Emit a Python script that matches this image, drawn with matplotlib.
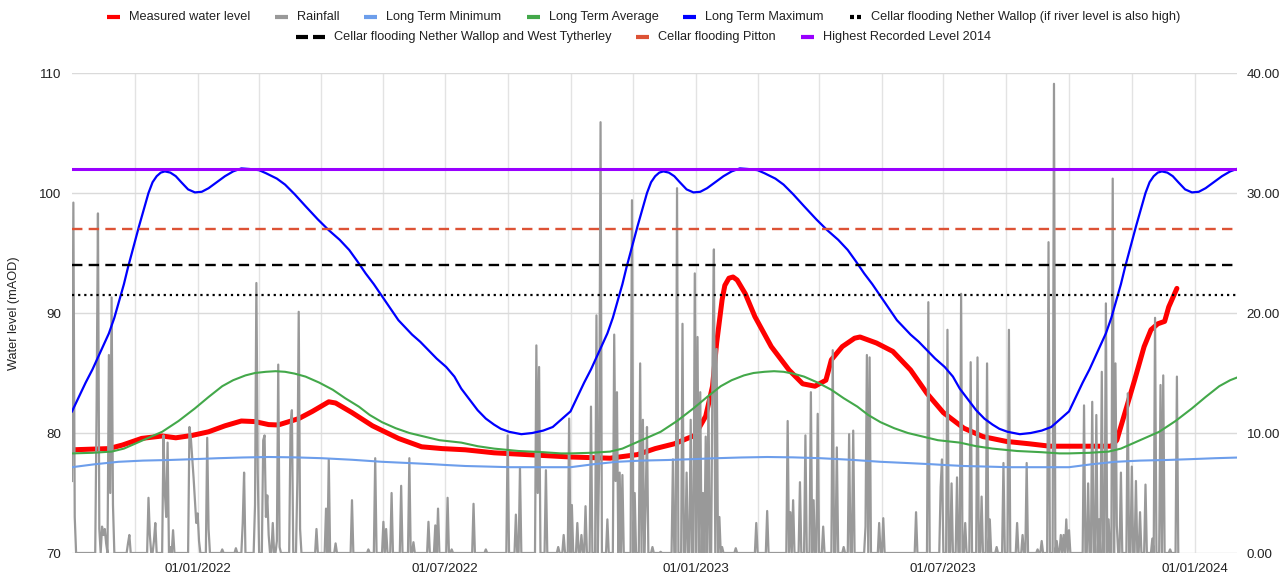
import datetime as dt
import numpy as np
import matplotlib
matplotlib.use("Agg")
import matplotlib.pyplot as plt
from matplotlib.lines import Line2D

plt.rcParams['font.family'] = ['Liberation Sans', 'DejaVu Sans']
plt.rcParams['lines.scale_dashes'] = False

# measured water level (mAOD)
level_dates = ['2021-10-01', '2021-10-28', '2021-11-07', '2021-11-21', '2021-12-06', '2021-12-16',
               '2021-12-28', '2022-01-09', '2022-01-21', '2022-02-02', '2022-02-12', '2022-02-22',
               '2022-03-01', '2022-03-16', '2022-03-26', '2022-04-07', '2022-04-12', '2022-04-24',
               '2022-05-09', '2022-05-28', '2022-06-14', '2022-06-29', '2022-07-16', '2022-08-06',
               '2022-08-30', '2022-10-01', '2022-10-30', '2022-11-19', '2022-12-02', '2022-12-16',
               '2022-12-31', '2023-01-08', '2023-01-13', '2023-01-16', '2023-01-20', '2023-01-22',
               '2023-01-25', '2023-01-28', '2023-01-31', '2023-02-06', '2023-02-13', '2023-02-25',
               '2023-03-10', '2023-03-20', '2023-03-29', '2023-04-06', '2023-04-10', '2023-04-18',
               '2023-04-27', '2023-05-01', '2023-05-13', '2023-05-25', '2023-06-07', '2023-06-19',
               '2023-07-01', '2023-07-16', '2023-07-30', '2023-08-16', '2023-09-02', '2023-09-17',
               '2023-10-07', '2023-11-01', '2023-11-05', '2023-11-11', '2023-11-18', '2023-11-25',
               '2023-11-30', '2023-12-05', '2023-12-10', '2023-12-13', '2023-12-19']
level_vals = [78.6, 78.7, 79.0, 79.55, 79.75, 79.6,
              79.8, 80.1, 80.6, 81.0, 80.95, 80.7,
              80.67, 81.2, 81.8, 82.6, 82.5, 81.7,
              80.6, 79.55, 78.85, 78.7, 78.6, 78.35,
              78.2, 78.0, 77.9, 78.2, 78.7, 79.1,
              79.8, 81.4, 83.9, 87.5, 91.1, 92.3,
              92.9, 93.0, 92.75, 91.6, 89.7, 87.2,
              85.25, 84.1, 83.9, 84.4, 86.1, 87.2,
              87.9, 88.0, 87.5, 86.8, 85.25, 83.3,
              81.7, 80.4, 79.7, 79.3, 79.1, 78.9,
              78.9, 78.9, 79.4, 81.7, 84.4, 87.2,
              88.6, 89.1, 89.3, 90.5, 92.05]

# daily rainfall (mm), day number counted from 01/10/2021, days not listed were dry
rain_start = '2021-10-01'
rain_end = '2023-12-20'
rain_day = [0, 1, 2, 18, 19, 20, 22, 23, 24, 25, 27, 28, 29, 30, 41, 42, 56, 57, 60, 61,
            67, 68, 69, 70, 72, 74, 86, 87, 88, 89, 90, 91, 92, 93, 99, 100, 110, 120, 125, 126,
            134, 135, 136, 140, 141, 142, 143, 144, 147, 150, 151, 152, 160, 161, 165, 166, 167, 179, 186, 188,
            193, 205, 217, 222, 228, 230, 234, 241, 247, 250, 261, 266, 268, 275, 278, 294, 303, 319, 325, 328,
            340, 341, 342, 347, 356, 360, 364, 366, 370, 373, 376, 380, 384, 386, 387, 392, 397, 398, 399, 401,
            403, 410, 412, 416, 418, 420, 421, 425, 431, 440, 443, 447, 450, 453, 456, 458, 460, 462, 464, 466,
            469, 470, 472, 474, 476, 486, 501, 509, 524, 526, 528, 533, 537, 541, 543, 546, 550, 557, 560, 565,
            569, 572, 581, 582, 584, 591, 594, 618, 627, 636, 637, 641, 644, 648, 651, 654, 658, 663, 666, 670,
            672, 677, 682, 686, 692, 696, 699, 707, 710, 715, 719, 721, 724, 726, 728, 730, 741, 744, 747, 750,
            752, 754, 757, 759, 762, 764, 765, 768, 773, 776, 779, 782, 786, 791, 793, 797, 799, 804, 809]
rain_mm = [6.0, 29.2, 3.0, 12.0, 28.3, 2.0, 2.2, 1.5, 2.0, 0.8, 16.5, 5.0, 21.3, 4.0, 0.8, 1.5, 4.6, 1.5, 1.0, 2.5,
           9.8, 5.0, 3.0, 9.2, 0.5, 1.9, 10.5, 9.6, 8.0, 6.3, 4.4, 2.5, 3.3, 1.0, 9.6, 2.0, 0.3, 0.4, 2.5, 6.7,
           4.0, 22.5, 6.7, 9.4, 9.8, 3.0, 4.8, 1.5, 2.5, 1.0, 15.7, 0.5, 10.5, 11.9, 6.0, 20.1, 2.0, 2.0, 3.7, 7.8,
           0.8, 4.4, 0.3, 7.9, 2.6, 2.0, 5.0, 5.6, 7.9, 0.9, 2.6, 2.3, 3.7, 4.6, 0.3, 4.1, 0.3, 9.8, 3.2, 7.1,
           17.3, 5.0, 15.5, 6.9, 0.5, 1.5, 11.2, 4.0, 2.5, 1.5, 3.9, 12.2, 19.8, 8.0, 35.9, 2.8, 18.2, 6.0, 13.4, 6.7,
           6.5, 29.4, 5.0, 15.8, 11.1, 4.0, 10.5, 0.5, 0.1, 7.8, 30.4, 19.1, 6.7, 11.1, 23.3, 18.0, 13.4, 5.0, 9.7, 12.9,
           16.1, 25.3, 17.0, 3.0, 0.5, 0.4, 2.5, 3.5, 11.0, 3.4, 4.4, 5.9, 9.8, 13.4, 4.4, 11.6, 2.2, 16.9, 8.8, 0.5,
           9.9, 10.2, 2.2, 16.5, 16.3, 2.5, 2.9, 3.4, 20.9, 5.5, 7.8, 18.6, 5.8, 6.3, 21.6, 2.5, 15.9, 16.3, 4.7, 15.8,
           2.8, 0.5, 7.5, 18.6, 2.5, 1.5, 7.5, 0.3, 1.0, 25.9, 39.1, 1.0, 1.5, 1.5, 2.8, 1.9, 12.3, 5.8, 12.6, 11.5,
           2.8, 15.1, 20.8, 2.8, 31.2, 15.8, 2.3, 6.7, 13.3, 7.2, 6.0, 3.4, 5.7, 1.2, 19.6, 14.0, 14.8, 0.3, 14.7]

# long term levels: one year of values, day number counted from 1 October
max_day = [0, 5, 10, 15, 21, 27, 31, 34, 38, 41, 45, 49, 53, 56, 59, 62, 65, 68, 72, 76,
           80, 85, 90, 95, 100, 106, 112, 118, 124, 130, 137, 142, 150, 156, 163, 171, 180, 188, 196, 203,
           209, 215, 221, 227, 233, 239, 244, 249, 255, 261, 267, 274, 280, 285, 291, 297, 303, 309, 314, 320,
           329, 337, 345, 352, 358, 362]
max_vals = [81.8, 83.0, 84.2, 85.3, 86.8, 88.3, 89.6, 90.8, 92.4, 93.8, 95.5, 97.2, 98.8, 100.0, 100.9,
            101.4, 101.7, 101.8, 101.7, 101.4, 100.9, 100.3, 100.05, 100.1, 100.4, 100.9, 101.4, 101.8,
            102.05, 102.0, 101.9, 101.65, 101.2, 100.7, 99.9, 98.9, 97.8, 96.9, 96.1, 95.25, 94.3, 93.3,
            92.4, 91.4, 90.4, 89.4, 88.8, 88.2, 87.6, 86.9, 86.2, 85.5, 84.7, 83.7, 82.8, 81.9, 81.2, 80.7,
            80.35, 80.1, 79.9, 80.0, 80.2, 80.5, 81.1, 81.5]
avg_day = [0, 15, 29, 38, 46, 56, 66, 78, 90, 100, 110, 118, 127, 134, 142, 149, 156, 163, 171, 181,
           191, 200, 210, 218, 227, 237, 247, 258, 269, 285, 297, 309, 327, 345, 358]
avg_vals = [78.3, 78.35, 78.45, 78.7, 79.1, 79.6, 80.1, 81.0, 82.05, 83.0, 83.9, 84.4, 84.8, 85.0,
            85.1, 85.15, 85.1, 84.95, 84.7, 84.2, 83.6, 82.9, 82.2, 81.5, 80.9, 80.4, 80.0, 79.7, 79.4,
            79.2, 78.9, 78.7, 78.5, 78.4, 78.3]
min_day = [0, 17, 34, 52, 71, 89, 107, 125, 144, 163, 183, 205, 227, 246, 264, 276, 288, 305, 321, 340, 358]
min_vals = [77.15, 77.4, 77.6, 77.7, 77.75, 77.82, 77.9, 77.96, 78.0, 77.97, 77.9, 77.77, 77.6, 77.5,
            77.4, 77.32, 77.25, 77.2, 77.15, 77.15, 77.15]
year_starts = ['2021-10-01', '2022-10-01', '2023-10-01']

# flood thresholds (mAOD)
nw_high_river = 91.5
nw_west_tytherley = 94.0
pitton = 97.0
highest_2014 = 102.0

x_start = dt.date(2021, 10, 1)
x_end = dt.date(2024, 2, 1)
label_dates = [dt.date(2022, 1, 1), dt.date(2022, 7, 1), dt.date(2023, 1, 1),
               dt.date(2023, 7, 1), dt.date(2024, 1, 1)]

RED = '#ff0000'
GREY = '#999999'
LBLUE = '#6d9eeb'
GREEN = '#43a84a'
BLUE = '#0000ff'
ORANGE = '#dd5235'
PURPLE = '#9900ff'
TXT = '#222222'


def yearly(days, vals):
    xs, ys = [], []
    for s in year_starts:
        xs.append(np.datetime64(s) + np.array(days, dtype='timedelta64[D]'))
        ys.append(vals)
    return np.concatenate(xs), np.concatenate(ys)


level_x = np.array(level_dates, dtype='datetime64[D]')
rain_x = np.arange(np.datetime64(rain_start), np.datetime64(rain_end) + 1)
rain = np.zeros(len(rain_x))
rain[rain_day] = rain_mm

W, H = 1287, 577
fig = plt.figure(figsize=(W / 100, H / 100), dpi=100)
rect = [72 / W, (H - 553) / H, 1165 / W, 480 / H]
ax = fig.add_axes(rect)
ax2 = ax.twinx()
ax3 = ax.twinx()

# measured level sits under the rain, the long term lines sit above it
ax.plot(level_x, level_vals, color=RED, lw=3.6, solid_joinstyle='round', solid_capstyle='round')
ax2.plot(rain_x, rain, color=GREY, lw=1.6)

mx, my = yearly(max_day, max_vals)
gx, gy = yearly(avg_day, avg_vals)
nx, ny = yearly(min_day, min_vals)
ax3.plot(nx, ny, color=LBLUE, lw=1.5, solid_joinstyle='round')
ax3.plot(gx, gy, color=GREEN, lw=1.5, solid_joinstyle='round')
ax3.plot(mx, my, color=BLUE, lw=1.6, solid_joinstyle='round')
ax3.axhline(nw_high_river, color='black', lw=1.6, linestyle=(0, (1.6, 2.8)))
ax3.axhline(nw_west_tytherley, color='black', lw=1.7, linestyle=(0, (7.5, 4.5)))
ax3.axhline(pitton, color=ORANGE, lw=1.7, linestyle=(0, (7.5, 4.5)))
ax3.axhline(highest_2014, color=PURPLE, lw=2.2)

for a in (ax, ax2, ax3):
    a.set_xlim(x_start, x_end)
    for s in a.spines.values():
        s.set_visible(False)
ax.set_ylim(70, 110)
ax2.set_ylim(0, 40)
ax3.set_ylim(70, 110)
ax3.set_axis_off()

# minor gridlines split each half year into quarters
minor = []
halves = [dt.date(2021, 7, 1)] + label_dates + [dt.date(2024, 7, 1)]
for a0, b0 in zip(halves[:-1], halves[1:]):
    span = (b0 - a0).days
    for k in (1, 2, 3):
        d = a0 + dt.timedelta(days=round(span * k / 4))
        if x_start < d < x_end:
            minor.append(d)

ax.set_xticks(label_dates)
ax.set_xticklabels([d.strftime('%d/%m/%Y') for d in label_dates])
ax.set_xticks(minor, minor=True)
ax.set_yticks([70, 80, 90, 100, 110])
ax2.set_yticks([0, 10, 20, 30, 40])
ax2.set_yticklabels(['%.2f' % v for v in [0, 10, 20, 30, 40]])
ax.grid(True, which='both', axis='x', color='#e3e3e3', lw=1)
ax.grid(True, which='major', axis='y', color='#dadada', lw=1)
ax.set_axisbelow(True)
ax.tick_params(which='both', length=0, labelsize=9.6, labelcolor=TXT)
ax.tick_params(axis='x', pad=7)
ax.tick_params(axis='y', pad=8)
ax2.tick_params(length=0, labelsize=9.6, labelcolor=TXT, pad=7)

fig.text(14 / W, 1 - 313 / H, 'Water level (mAOD)', rotation=90, ha='center', va='center',
         fontsize=9.2, color=TXT)

# legend, two centred rows like the original
rows = [
    [('Measured water level', RED, 'solid'), ('Rainfall', GREY, 'solid'),
     ('Long Term Minimum', LBLUE, 'solid'), ('Long Term Average', GREEN, 'solid'),
     ('Long Term Maximum', BLUE, 'solid'),
     ('Cellar flooding Nether Wallop (if river level is also high)', 'black', 'dot')],
    [('Cellar flooding Nether Wallop and West Tytherley', 'black', 'dash'),
     ('Cellar flooding Pitton', ORANGE, 'solid'),
     ('Highest Recorded Level 2014', PURPLE, 'solid')],
]
row_y = [17, 37]
renderer = fig.canvas.get_renderer()
for items, yc in zip(rows, row_y):
    yf = 1 - yc / H
    texts, widths, mws = [], [], []
    for label, col, style in items:
        t = fig.text(0, yf, label, fontsize=9.2, color=TXT, ha='left', va='center')
        texts.append(t)
        widths.append(t.get_window_extent(renderer).width)
        mws.append(29 if style == 'dash' else 13)
    gap_mt, gap_it = 9, 25
    total = sum(mws) + sum(widths) + gap_mt * len(items) + gap_it * (len(items) - 1)
    x = W / 2 - total / 2
    for (label, col, style), t, w, m in zip(items, texts, widths, mws):
        if style == 'dash':
            segs = [(x, x + 12), (x + 17, x + 29)]
        elif style == 'dot':
            segs = [(x + 1, x + 5), (x + 8, x + 12)]
        else:
            segs = [(x, x + m)]
        for s0, s1 in segs:
            fig.add_artist(Line2D([s0 / W, s1 / W], [yf, yf], transform=fig.transFigure,
                                  color=col, lw=3.0, solid_capstyle='butt'))
        t.set_x((x + m + gap_mt) / W)
        x += m + gap_mt + w + gap_it

fig.savefig('out.png', dpi=100)
